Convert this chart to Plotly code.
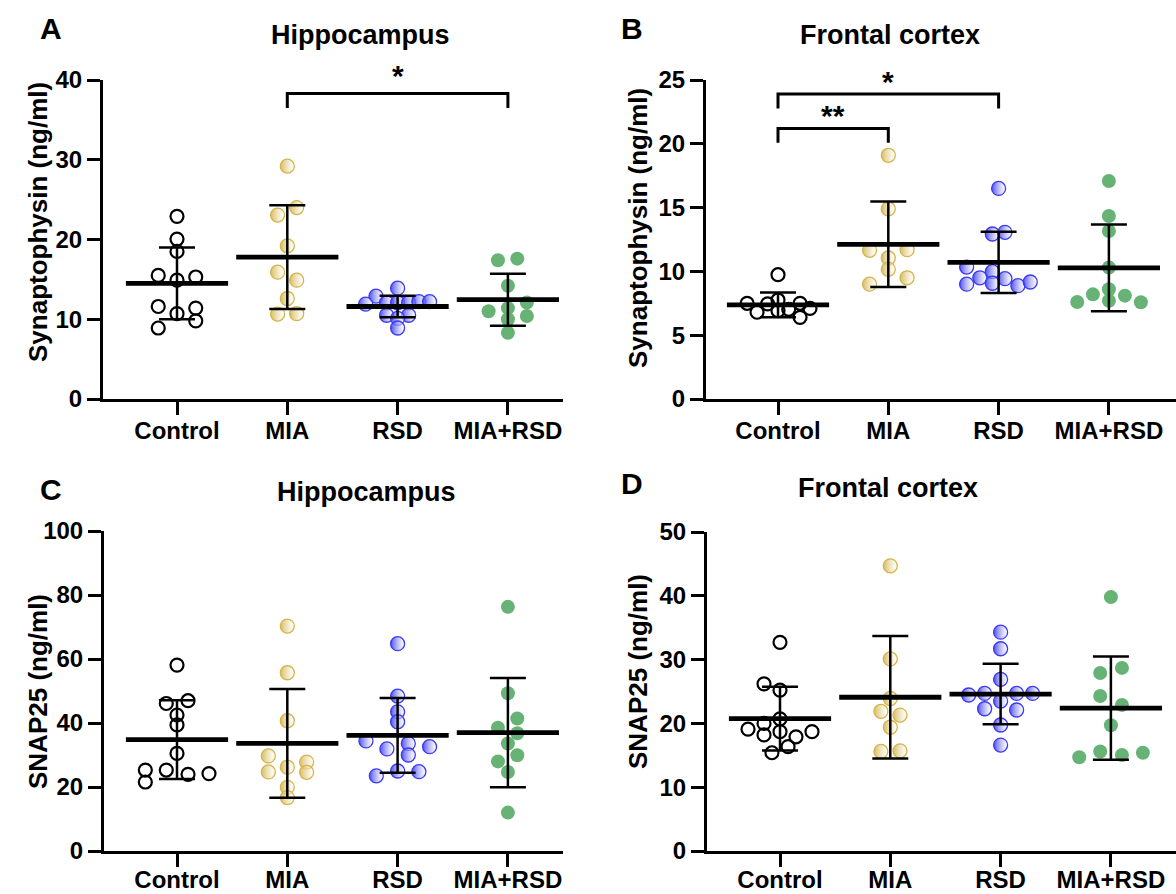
import plotly.graph_objects as go

W, H = 1176, 894
GROUPS = ["Control", "MIA", "RSD", "MIA+RSD"]
COLORS = ["#000000", "#D4B44C", "#3A3AF0", "#5FAF6E"]

# ---------------- data ----------------
# Panel A: Synaptophysin, hippocampus
A_CONTROL = [22.9, 20.05, 18.5, 15.5, 15.3, 14.9, 11.6, 11.4, 10.7, 9.8, 8.9]
A_MIA = [29.2, 24.0, 23.06, 19.2, 15.9, 14.9, 12.6, 10.65, 10.7]
A_RSD = [13.9, 12.9, 11.9, 12.07, 12.07, 12.07, 12.2, 12.2, 10.5, 10.5, 10.1, 8.9]
A_MIARSD = [17.4, 17.6, 14.2, 12.1, 11.4, 11.0, 10.4, 10.0, 8.3]
A_MEAN = [14.5, 17.8, 11.6, 12.45]
A_SD = [4.5, 6.5, 1.35, 3.25]

# Panel B: Synaptophysin, frontal cortex
B_CONTROL = [9.74, 7.5, 6.8, 7.45, 7.76, 6.92, 7.03, 7.5, 6.4, 7.1]
B_MIA = [19.1, 14.9, 11.65, 11.7, 11.05, 10.16, 9.5, 9.0]
B_RSD = [16.5, 12.93, 13.06, 10.34, 9.98, 9.5, 9.43, 9.0, 9.07, 8.88, 9.17]
B_MIARSD = [17.08, 14.34, 13.17, 10.3, 8.6, 8.2, 8.1, 7.7, 7.6, 7.58]
B_MEAN = [7.37, 12.12, 10.71, 10.27]
B_SD = [0.97, 3.35, 2.4, 3.4]

# Panel C: SNAP25, hippocampus
C_CONTROL = [58.1, 46.1, 46.97, 42.5, 39.4, 30.5, 25.3, 25.3, 23.96, 24.2, 21.56]
C_MIA = [70.3, 55.7, 40.7, 29.7, 27.8, 24.7, 26.2, 24.6, 19.9, 16.7]
C_RSD = [64.8, 48.4, 43.5, 40.4, 34.4, 33.6, 32.6, 31.9, 30.0, 25.0, 24.8, 23.5]
C_MIARSD = [76.3, 49.3, 41.4, 38.5, 36.8, 33.6, 29.9, 28.0, 24.7, 12.0]
C_MEAN = [34.8, 33.65, 36.15, 37.0]
C_SD = [12.3, 17.0, 11.7, 17.1]

# Panel D: SNAP25, frontal cortex
D_CONTROL = [32.7, 26.2, 25.2, 20.7, 20.0, 19.1, 18.2, 18.7, 17.9, 18.7, 16.35, 15.4]
D_MIA = [44.7, 30.1, 23.9, 21.9, 21.3, 19.4, 15.6, 15.7]
D_RSD = [34.3, 31.7, 26.9, 24.45, 24.7, 24.7, 24.7, 23.5, 22.3, 22.1, 19.75, 16.6]
D_MIARSD = [39.8, 28.7, 27.9, 24.3, 22.9, 19.7, 15.6, 15.05, 15.4, 14.7]
D_MEAN = [20.75, 24.1, 24.6, 22.4]
D_SD = [5.0, 9.6, 4.75, 8.1]

# significance brackets: (group a, group b, height, label)
A_BRACKETS = [(1, 3, 38.3, "*")]
B_BRACKETS = [(0, 1, 21.2, "**"), (0, 2, 23.9, "*")]

# ---------------- scatter jitter (layout) ----------------
J_A = [
    [0, 0, 0, -0.17, 0.17, 0, -0.17, 0.17, 0, 0.17, -0.17],
    [0, 0.085, -0.088, 0, -0.088, 0.085, 0, -0.088, 0.085],
    [0, -0.196, -0.29, -0.1, 0, 0.1, 0.193, 0.29, -0.1, 0.1, 0, 0],
    [-0.09, 0.085, 0, 0.172, 0, -0.175, 0.172, 0, 0],
]
J_B = [
    [0, -0.28, -0.19, -0.094, 0, 0, 0.097, 0.2, 0.2, 0.29],
    [0, 0, -0.17, 0.17, 0, 0, 0.17, -0.17],
    [0, -0.057, 0.057, -0.29, -0.057, -0.17, 0.057, -0.29, -0.057, 0.175, 0.287],
    [0, 0, 0, 0, 0, -0.145, 0.145, 0, -0.287, 0.29],
]
J_C = [
    [0, -0.097, 0.1, 0, 0, 0, -0.287, -0.097, 0.1, 0.29, -0.287],
    [0, 0, 0, -0.172, 0.175, -0.172, 0, 0.175, 0, 0],
    [0, 0, 0, 0, -0.287, 0.097, 0.29, -0.097, 0.097, 0, 0.193, -0.193],
    [0, 0, 0.085, -0.09, 0.085, 0, 0.085, -0.09, 0, 0],
]
J_D = [
    [0, -0.145, 0, 0, -0.145, -0.29, -0.145, 0, 0.145, 0.29, 0.073, -0.073],
    [0, 0, 0, -0.085, 0.088, 0, -0.085, 0.088],
    [0, 0, 0, -0.29, -0.145, 0.145, 0.29, 0, -0.145, 0.145, 0, 0],
    [0, 0.1, -0.097, -0.097, 0.1, 0, -0.097, 0.1, 0.29, -0.287],
]

FONT = "Liberation Sans, Arial, sans-serif"

PANELS = [
    dict(letter="A", title="Hippocampus", ylab="Synaptophysin (ng/ml)",
         data=[A_CONTROL, A_MIA, A_RSD, A_MIARSD], mean=A_MEAN, sd=A_SD, jit=J_A,
         br=A_BRACKETS, star_shift=[4], yr=[0, 40], dt=10, lstand=-5,
         xpx=[103, 563], ypx=[80, 399], ctrl=177,
         letpos=(51, 28), titpos=(360, 35), ylabpos=(38, 222)),
    dict(letter="B", title="Frontal cortex", ylab="Synaptophysin (ng/ml)",
         data=[B_CONTROL, B_MIA, B_RSD, B_MIARSD], mean=B_MEAN, sd=B_SD, jit=J_B,
         br=B_BRACKETS, star_shift=[-2, -2], yr=[0, 25], dt=5, lstand=-5,
         xpx=[706, 1176], ypx=[80, 399], ctrl=778,
         letpos=(632, 28), titpos=(890, 35), ylabpos=(638, 228)),
    dict(letter="C", title="Hippocampus", ylab="SNAP25 (ng/ml)",
         data=[C_CONTROL, C_MIA, C_RSD, C_MIARSD], mean=C_MEAN, sd=C_SD, jit=J_C,
         br=[], star_shift=[], yr=[0, 100], dt=20, lstand=-8,
         xpx=[104, 563], ypx=[531, 851], ctrl=177,
         letpos=(51, 489), titpos=(366, 492), ylabpos=(38, 692)),
    dict(letter="D", title="Frontal cortex", ylab="SNAP25 (ng/ml)",
         data=[D_CONTROL, D_MIA, D_RSD, D_MIARSD], mean=D_MEAN, sd=D_SD, jit=J_D,
         br=[], star_shift=[], yr=[0, 50], dt=10, lstand=-8,
         xpx=[707, 1176], ypx=[532, 851], ctrl=780,
         letpos=(632, 483), titpos=(888, 488), ylabpos=(638, 672)),
]

STEP = 110.3  # px per category

fig = go.Figure()
annotations = []
layout = {}


def hexrgba(h, a):
    h = h.lstrip("#")
    r, g, b = int(h[0:2], 16), int(h[2:4], 16), int(h[4:6], 16)
    return f"rgba({r},{g},{b},{a})"


for k, p in enumerate(PANELS):
    sfx = "" if k == 0 else str(k + 1)
    xa, ya = "x" + sfx, "y" + sfx
    x0px, x1px = p["xpx"]
    xr = [-(p["ctrl"] - x0px) / STEP, (x1px - p["ctrl"]) / STEP]
    ax_common = dict(showgrid=False, zeroline=False, showline=True, linecolor="black",
                     linewidth=3, ticks="outside", ticklen=13, tickwidth=3, tickcolor="black",
                     automargin=False,
                     tickfont=dict(family=FONT, size=24, color="black", weight="bold"))
    layout["xaxis" + sfx] = dict(ax_common, domain=[x0px / W, x1px / W], range=xr,
                                 tickvals=list(range(4)), ticktext=GROUPS,
                                 ticklabelstandoff=p["lstand"],
                                 anchor=ya, fixedrange=True)
    layout["yaxis" + sfx] = dict(ax_common, domain=[1 - p["ypx"][1] / H, 1 - p["ypx"][0] / H],
                                 range=p["yr"], tickvals=list(range(p["yr"][0], p["yr"][1] + 1, p["dt"])),
                                 anchor=xa, fixedrange=True)

    for g, vals in enumerate(p["data"]):
        xs = [g + j for j in p["jit"][g]]
        if g == 0:
            marker = dict(symbol="circle-open", size=13, color="black", line=dict(width=2.2, color="black"))
        elif g == 3:
            marker = dict(symbol="circle", size=14, color=hexrgba(COLORS[g], 0.95), line=dict(width=0))
        else:
            marker = dict(symbol="circle", size=14, color=hexrgba(COLORS[g], 0.9),
                          gradient=dict(type="horizontal", color="rgba(255,255,255,0.5)"),
                          line=dict(width=1.3, color=COLORS[g]))
        fig.add_trace(go.Scatter(x=xs, y=vals, mode="markers", marker=marker,
                                 xaxis=xa, yaxis=ya, showlegend=False, cliponaxis=False))

    # mean line + SD whiskers
    fig.add_trace(go.Scatter(
        x=list(range(4)), y=p["mean"], mode="markers",
        marker=dict(symbol="line-ew", size=73, line=dict(width=4.8, color="black"), color="black"),
        error_y=dict(type="data", array=p["sd"], visible=True, width=18, thickness=2.5, color="black"),
        xaxis=xa, yaxis=ya, showlegend=False, cliponaxis=False))

    # significance brackets
    span = p["yr"][1] - p["yr"][0]
    for (a, b, hgt, lab), ysh in zip(p["br"], p["star_shift"]):
        leg = span * 0.045
        fig.add_trace(go.Scatter(x=[a, a, b, b], y=[hgt - leg, hgt, hgt, hgt - leg], mode="lines",
                                 line=dict(color="black", width=3), xaxis=xa, yaxis=ya,
                                 showlegend=False, cliponaxis=False))
        annotations.append(dict(x=(a + b) / 2, y=hgt, xref=xa, yref=ya, text=lab, showarrow=False,
                                yanchor="bottom", yshift=-4 + ysh,
                                font=dict(family=FONT, size=30, color="black", weight="bold")))

    lx, ly = p["letpos"]
    annotations.append(dict(x=lx / W, y=1 - ly / H, xref="paper", yref="paper", text=p["letter"],
                            showarrow=False, xanchor="center", yanchor="middle",
                            font=dict(family=FONT, size=30, color="black", weight="bold")))
    tx, ty = p["titpos"]
    annotations.append(dict(x=tx / W, y=1 - ty / H, xref="paper", yref="paper", text=p["title"],
                            showarrow=False, xanchor="center", yanchor="middle",
                            font=dict(family=FONT, size=27, color="black", weight="bold")))
    yx, yy = p["ylabpos"]
    annotations.append(dict(x=yx / W, y=1 - yy / H, xref="paper", yref="paper", text=p["ylab"],
                            showarrow=False, xanchor="center", yanchor="middle", textangle=-90,
                            font=dict(family=FONT, size=26, color="black", weight="bold")))

fig.update_layout(width=W, height=H, margin=dict(l=0, r=0, t=0, b=0, autoexpand=False),
                  plot_bgcolor="white", paper_bgcolor="white",
                  annotations=annotations, **layout)

fig.write_html("out.html", config={"displayModeBar": False},
               post_script="document.body.style.margin='0';")
